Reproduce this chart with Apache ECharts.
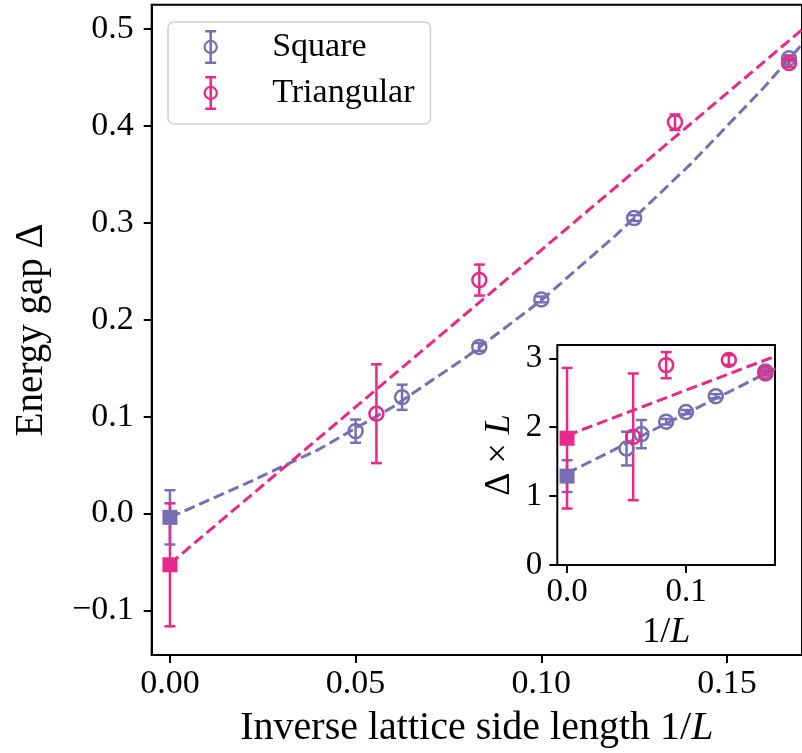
<!DOCTYPE html>
<html>
<head>
<meta charset="utf-8">
<script src="https://cdn.jsdelivr.net/npm/echarts@6/dist/echarts.min.js"></script>
<style>
  html, body { margin: 0; padding: 0; background: #ffffff; }
  #chart { width: 802px; height: 753px; }
</style>
</head>
<body>
<div id="chart"></div>
<script>
// ---------------- data ----------------
const sqX      = [0.05, 0.0625, 0.0833, 0.1, 0.125, 0.1667];
const sqGap    = [0.085, 0.120, 0.172, 0.221, 0.305, 0.470];
const sqErr    = [0.012, 0.013, 0.004, 0.003, 0.003, 0.003];
const sqExtrap = [[0, -0.004, 0.028]];

const triX      = [0.0556, 0.0833, 0.136, 0.1667];
const triGap    = [0.103, 0.241, 0.404, 0.465];
const triErr    = [0.051, 0.016, 0.008, 0.004];
const triExtrap = [[0, -0.053, 0.0635]];

const sqFitX  = [0, 0.02, 0.04, 0.06, 0.08, 0.10, 0.12, 0.14, 0.16, 0.175];
const sqFitY  = [-0.004, 0.030, 0.066, 0.110, 0.162, 0.220, 0.287, 0.360, 0.440, 0.505];
const triFitX = [0, 0.05, 0.10, 0.15, 0.175];
const triFitY = [-0.052, 0.110, 0.272, 0.434, 0.515];

const sqGapL    = [1.69, 1.90, 2.08, 2.22, 2.45, 2.81];
const sqErrL    = [0.245, 0.205, 0.04, 0.03, 0.03, 0.03];
const sqExtrapL = [[0, 1.29, 0.23]];
const triGapL    = [1.86, 2.90, 2.975, 2.78];
const triErrL    = [0.92, 0.19, 0.07, 0.03];
const triExtrapL = [[0, 1.84, 1.02]];
const insetFitX   = [0, 0.175];
const sqFitYL     = [1.33, 2.85];
const triFitYL    = [1.88, 3.03];

const mainXTicks  = [0, 0.05, 0.10, 0.15];
const mainYTicks  = [-0.1, 0, 0.1, 0.2, 0.3, 0.4, 0.5];
const insetXTicks = [0, 0.1];
const insetYTicks = [0, 1, 2, 3];

// ---------------- styling ----------------
const PURPLE = '#7570b3';
const PINK   = '#e7298a';
const FONT   = 'Liberation Serif';

const zip3 = (xs, ys, es) => xs.map((x, i) => [x, ys[i], es[i]]);
const zip2 = (xs, ys) => xs.map((x, i) => [x, ys[i]]);

function errRender(color) {
  return function (params, api) {
    const x = api.value(0), y = api.value(1), e = api.value(2);
    const t = api.coord([x, y + e]);
    const b = api.coord([x, y - e]);
    const hw = 5.5;
    const st = { stroke: color, lineWidth: 2.5 };
    return {
      type: 'group',
      children: [
        { type: 'line', shape: { x1: t[0], y1: t[1], x2: b[0], y2: b[1] }, style: st },
        { type: 'line', shape: { x1: t[0] - hw, y1: t[1], x2: t[0] + hw, y2: t[1] }, style: st },
        { type: 'line', shape: { x1: b[0] - hw, y1: b[1], x2: b[0] + hw, y2: b[1] }, style: st }
      ]
    };
  };
}
function errSeries(name, data, color, xi, yi) {
  return { name: name, type: 'custom', xAxisIndex: xi, yAxisIndex: yi,
    data: data, encode: { x: 0, y: 1 }, renderItem: errRender(color), silent: true, z: 3 };
}
function circleSeries(name, data, color, xi, yi) {
  return { name: name, type: 'scatter', xAxisIndex: xi, yAxisIndex: yi,
    data: data.map(d => [d[0], d[1]]), symbol: 'circle', symbolSize: 14,
    itemStyle: { color: 'rgba(0,0,0,0)', borderColor: color, borderWidth: 2.5, opacity: 1 },
    silent: true, z: 4 };
}
function squareSeries(name, data, color, xi, yi) {
  return { name: name, type: 'scatter', xAxisIndex: xi, yAxisIndex: yi,
    data: data.map(d => [d[0], d[1]]), symbol: 'rect', symbolSize: 15,
    itemStyle: { color: color, opacity: 1 }, silent: true, z: 4 };
}
function fitSeries(name, data, color, xi, yi) {
  return { name: name, type: 'line', xAxisIndex: xi, yAxisIndex: yi,
    data: data, showSymbol: false, symbol: 'none', clip: true,
    lineStyle: { color: color, width: 3, type: [11, 5] }, silent: true, z: 2 };
}

const legendIcon = 'path://M2.5,0 L13.5,0 L13.5,2.5 L2.5,2.5 Z M2.5,31.5 L13.5,31.5 L13.5,34 L2.5,34 Z ' +
  'M6.75,0 L9.25,0 L9.25,34 L6.75,34 Z ' +
  'M8,9.8 A7.2,7.2 0 1,1 8,24.2 A7.2,7.2 0 1,1 8,9.8 Z ' +
  'M8,12 A5,5 0 1,0 8,22 A5,5 0 1,0 8,12 Z';

const tickStyle = { show: true, inside: false, length: 8, lineStyle: { color: '#000', width: 2 } };
const axisLineStyle = { show: true, onZero: false, lineStyle: { color: '#000', width: 2 } };
const fmtMinus = (v, d) => (v < 0 ? '\u2212' : '') + Math.abs(v).toFixed(d);

const chart = echarts.init(document.getElementById('chart'), null, { renderer: 'canvas' });

const option = {
  backgroundColor: '#ffffff',
  animation: false,
  textStyle: { fontFamily: FONT },
  legend: {
    left: 168, top: 22, orient: 'vertical',
    padding: [8, 16, 14, 35.5],
    itemWidth: 15, itemHeight: 34, itemGap: 12,
    backgroundColor: '#ffffff', borderColor: '#d0d0d0', borderWidth: 1.5, borderRadius: 6,
    selectedMode: false,
    formatter: n => '{g|}{t|' + n + '}',
    textStyle: { fontFamily: FONT, fontSize: 34, color: '#000', lineHeight: 34,
      rich: { g: { width: 49 }, t: { fontFamily: FONT, fontSize: 34, color: '#000', lineHeight: 34 } } },
    data: [
      { name: 'Square', icon: legendIcon, itemStyle: { color: PURPLE, borderWidth: 0 } },
      { name: 'Triangular', icon: legendIcon, itemStyle: { color: PINK, borderWidth: 0 } }
    ]
  },
  grid: [
    { left: 151.7, top: 4.7, right: -3, bottom: 95.7, show: true,
      borderColor: '#000', borderWidth: 2, backgroundColor: 'transparent', containLabel: false },
    { left: 557.3, top: 345, width: 217.7, height: 220, show: true,
      borderColor: '#000', borderWidth: 2, backgroundColor: '#ffffff', containLabel: false, z: 1 }
  ],
  xAxis: [
    { type: 'value', gridIndex: 0, min: -0.00491, max: 0.1702, position: 'bottom',
      axisLine: axisLineStyle, splitLine: { show: false },
      axisTick: Object.assign({ customValues: mainXTicks }, tickStyle),
      axisLabel: { customValues: mainXTicks, formatter: v => fmtMinus(v, 2), margin: 12,
                   fontFamily: FONT, fontSize: 34, color: '#000' },
      name: '{r|Inverse lattice side length 1/}{i|L}', nameLocation: 'middle', nameGap: 53,
      nameTextStyle: { rich: {
        r: { fontFamily: FONT, fontSize: 40, color: '#000' },
        i: { fontFamily: FONT, fontSize: 40, color: '#000', fontStyle: 'italic' } } } },
    { type: 'value', gridIndex: 1, min: -0.0082, max: 0.1748, position: 'bottom',
      axisLine: axisLineStyle, splitLine: { show: false },
      axisTick: Object.assign({ customValues: insetXTicks }, tickStyle),
      axisLabel: { customValues: insetXTicks, formatter: v => fmtMinus(v, 1), margin: 11,
                   fontFamily: FONT, fontSize: 33, color: '#000' },
      name: '{r|1/}{i|L}', nameLocation: 'middle', nameGap: 50,
      nameTextStyle: { rich: {
        r: { fontFamily: FONT, fontSize: 36, color: '#000' },
        i: { fontFamily: FONT, fontSize: 36, color: '#000', fontStyle: 'italic' } } } }
  ],
  yAxis: [
    { type: 'value', gridIndex: 0, min: -0.1461, max: 0.5253, position: 'left',
      axisLine: axisLineStyle, splitLine: { show: false },
      axisTick: Object.assign({ customValues: mainYTicks }, tickStyle),
      axisLabel: { customValues: mainYTicks, formatter: v => fmtMinus(v, 1), margin: 18,
                   fontFamily: FONT, fontSize: 34, color: '#000' },
      name: 'Energy gap \u0394', nameLocation: 'middle', nameGap: 100, nameRotate: 90,
      nameTextStyle: { fontFamily: FONT, fontSize: 39, color: '#000' } },
    { type: 'value', gridIndex: 1, min: 0, max: 3.193, position: 'left',
      axisLine: axisLineStyle, splitLine: { show: false },
      axisTick: Object.assign({ customValues: insetYTicks }, tickStyle),
      axisLabel: { customValues: insetYTicks, formatter: v => String(v), margin: 15,
                   fontFamily: FONT, fontSize: 33, color: '#000' },
      name: '{r|\u0394 \u00d7 }{i|L}', nameLocation: 'middle', nameGap: 40, nameRotate: 90,
      nameTextStyle: { rich: {
        r: { fontFamily: FONT, fontSize: 36, color: '#000' },
        i: { fontFamily: FONT, fontSize: 36, color: '#000', fontStyle: 'italic' } } } }
  ],
  series: [
    fitSeries('Square', zip2(sqFitX, sqFitY), PURPLE, 0, 0),
    fitSeries('Triangular', zip2(triFitX, triFitY), PINK, 0, 0),
    errSeries('Square', zip3(sqX, sqGap, sqErr), PURPLE, 0, 0),
    circleSeries('Square', zip3(sqX, sqGap, sqErr), PURPLE, 0, 0),
    errSeries('Square', sqExtrap, PURPLE, 0, 0),
    squareSeries('Square', sqExtrap, PURPLE, 0, 0),
    errSeries('Triangular', zip3(triX, triGap, triErr), PINK, 0, 0),
    circleSeries('Triangular', zip3(triX, triGap, triErr), PINK, 0, 0),
    errSeries('Triangular', triExtrap, PINK, 0, 0),
    squareSeries('Triangular', triExtrap, PINK, 0, 0),
    fitSeries('Square', zip2(insetFitX, sqFitYL), PURPLE, 1, 1),
    fitSeries('Triangular', zip2(insetFitX, triFitYL), PINK, 1, 1),
    errSeries('Square', zip3(sqX, sqGapL, sqErrL), PURPLE, 1, 1),
    circleSeries('Square', zip3(sqX, sqGapL, sqErrL), PURPLE, 1, 1),
    errSeries('Square', sqExtrapL, PURPLE, 1, 1),
    squareSeries('Square', sqExtrapL, PURPLE, 1, 1),
    errSeries('Triangular', zip3(triX, triGapL, triErrL), PINK, 1, 1),
    circleSeries('Triangular', zip3(triX, triGapL, triErrL), PINK, 1, 1),
    errSeries('Triangular', triExtrapL, PINK, 1, 1),
    squareSeries('Triangular', triExtrapL, PINK, 1, 1)
  ]
};
chart.setOption(option);
</script>
</body>
</html>
